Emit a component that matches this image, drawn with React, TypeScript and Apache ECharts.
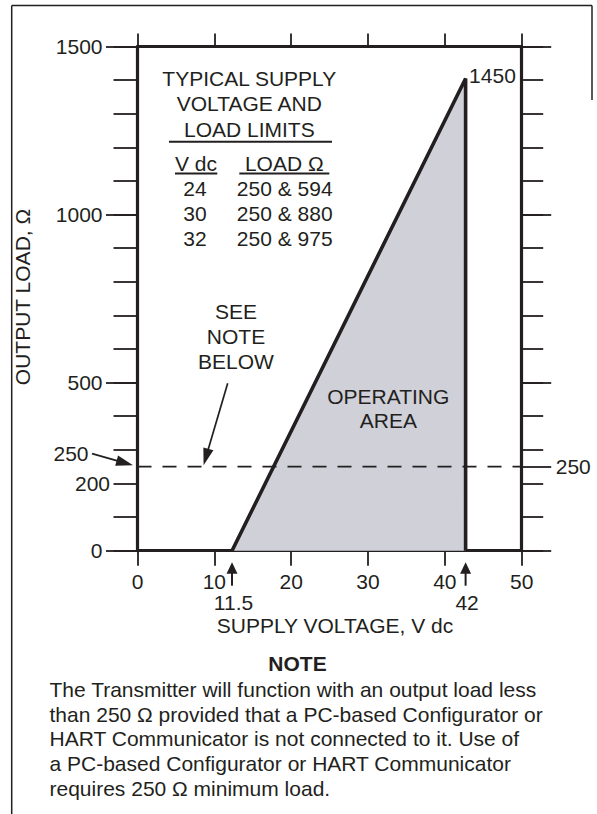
import React, { useEffect, useRef } from "react";
import * as echarts from "echarts";

// ---- data ----
const xRange = { min: 0, max: 50, step: 10 };
const yRange = { min: 0, max: 1500, step: 100 };
const leftMajorTicks = [0, 500, 1000, 1500];
const leftLabels = [0, 500, 1000, 1500];
const leftInnerLabels = [200];
const rightMajorTicks = [0, 250, 500, 1000, 1500];
const rightLabels = [250];
// operating area polygon as drawn: start voltage, max voltage / max load
const operatingArea: number[][] = [
  [12.3, 0],
  [42.7, 1405],
  [42.7, 0],
];
const minLoad = 250;
const minLoadLine: number[][] = [
  [0, minLoad],
  [50, minLoad],
];
const voltageMarks = [
  { label: "11.5", at: 12.3 },
  { label: "42", at: 42.7 },
];
const apexLabel = "1450";
const tableTitle = ["TYPICAL SUPPLY", "VOLTAGE AND", "LOAD LIMITS"];
const tableHeader = ["V dc", "LOAD Ω"];
const tableVoltages = ["24", "30", "32"];
const tableLoads = ["250 & 594", "250 & 880", "250 & 975"];
const seeNote = ["SEE", "NOTE", "BELOW"];
const areaLabel = ["OPERATING", "AREA"];
const xTitle = "SUPPLY VOLTAGE, V dc";
const yTitle = "OUTPUT LOAD, Ω";
const noteTitle = "NOTE";
const noteLines = [
  "The Transmitter will function with an output load less",
  "than 250 Ω provided that a PC-based Configurator or",
  "HART Communicator is not connected to it. Use of",
  "a PC-based Configurator or HART Communicator",
  "requires 250 Ω minimum load.",
];

const FONT = "'Liberation Sans', Arial, Helvetica, sans-serif";
const INK = "#231f20";
const FS = 21;

function arrowEls(from: number[], to: number[], headLen: number, headW: number, lw: number) {
  const dx = to[0] - from[0];
  const dy = to[1] - from[1];
  const L = Math.hypot(dx, dy);
  const ux = dx / L;
  const uy = dy / L;
  const bx = to[0] - ux * headLen;
  const by = to[1] - uy * headLen;
  const nx = -uy;
  const ny = ux;
  return [
    {
      type: "line",
      shape: { x1: from[0], y1: from[1], x2: bx + ux, y2: by + uy },
      style: { stroke: INK, lineWidth: lw },
      z: 10,
    },
    {
      type: "polygon",
      shape: {
        points: [
          [to[0], to[1]],
          [bx + (nx * headW) / 2, by + (ny * headW) / 2],
          [bx - (nx * headW) / 2, by - (ny * headW) / 2],
        ],
      },
      style: { fill: INK },
      z: 10,
    },
  ];
}

function txt(text: string, x: number, y: number, align = "center", extra: any = {}) {
  return {
    type: "text",
    x,
    y,
    z: 10,
    ...extra.el,
    style: {
      text,
      x: 0,
      y: 0,
      fill: INK,
      fontSize: FS,
      fontFamily: FONT,
      align,
      verticalAlign: "middle",
      ...extra.style,
    },
  };
}

function hline(x1: number, x2: number, y: number, w: number) {
  return { type: "line", shape: { x1, y1: y, x2, y2: y }, style: { stroke: INK, lineWidth: w }, z: 10 };
}
function vline(x: number, y1: number, y2: number, w: number) {
  return { type: "line", shape: { x1: x, y1, x2: x, y2 }, style: { stroke: INK, lineWidth: w }, z: 10 };
}

export default function App() {
  const ref = useRef<HTMLDivElement>(null);
  useEffect(() => {
    const chart = echarts.init(ref.current!, null, { renderer: "svg" });
    const axisLine = { show: true, onZero: false, lineStyle: { color: INK, width: 3.2 } };
    const noLine = { show: false, onZero: false };
    const label = { color: INK, fontSize: FS, fontFamily: FONT, formatter: (v: number) => String(v) };
    const yBase = { type: "value", min: yRange.min, max: yRange.max, interval: yRange.step, splitLine: { show: false } };
    const xBase = { type: "value", min: xRange.min, max: xRange.max, interval: xRange.step, splitLine: { show: false } };
    chart.setOption({
      animation: false,
      backgroundColor: "#ffffff",
      grid: { left: 137.5, top: 46.5, width: 384.2, height: 504.2, containLabel: false },
      xAxis: [
        {
          ...xBase,
          position: "bottom",
          axisLine,
          axisTick: { show: true, length: 15, lineStyle: { color: INK, width: 1.8 } },
          axisLabel: { ...label, margin: 20, lineHeight: 21 },
        },
        {
          ...xBase,
          position: "top",
          axisLine,
          axisTick: { show: true, length: 13, lineStyle: { color: INK, width: 1.8 } },
          axisLabel: { show: false },
        },
      ],
      yAxis: [
        {
          ...yBase,
          position: "left",
          axisLine,
          axisTick: { show: true, length: 24, lineStyle: { color: INK, width: 1.8 } },
          axisLabel: { show: false },
        },
        {
          ...yBase,
          position: "left",
          axisLine: noLine,
          axisTick: { show: true, length: 31.5, customValues: leftMajorTicks, lineStyle: { color: INK, width: 1.8 } },
          axisLabel: { ...label, margin: 35, customValues: leftLabels },
        },
        {
          ...yBase,
          position: "left",
          axisLine: noLine,
          axisTick: { show: false },
          axisLabel: { ...label, margin: 27.5, customValues: leftInnerLabels },
        },
        {
          ...yBase,
          position: "right",
          axisLine,
          axisTick: { show: true, length: 21.5, lineStyle: { color: INK, width: 1.8 } },
          axisLabel: { show: false },
        },
        {
          ...yBase,
          position: "right",
          axisLine: noLine,
          axisTick: { show: true, length: 29.5, customValues: rightMajorTicks, lineStyle: { color: INK, width: 1.8 } },
          axisLabel: { ...label, margin: 34, customValues: rightLabels },
        },
      ],
      series: [
        {
          type: "line",
          name: "Operating area",
          data: operatingArea,
          xAxisIndex: 0,
          yAxisIndex: 0,
          symbol: "none",
          lineStyle: { color: INK, width: 3.6, join: "miter", miterLimit: 10, cap: "butt" },
          areaStyle: { color: "#cfd0d8", opacity: 1 },
          z: 3,
        },
        {
          type: "line",
          name: "Minimum load",
          data: minLoadLine,
          xAxisIndex: 0,
          yAxisIndex: 0,
          symbol: "none",
          lineStyle: { color: INK, width: 1.6, type: [14, 11] },
          z: 4,
        },
      ],
    });

    const px = (x: number, y: number) =>
      chart.convertToPixel({ xAxisIndex: 0, yAxisIndex: 0 }, [x, y]) as number[];

    const g: any[] = [];
    // page frame
    g.push(vline(11.7, 5.5, 814, 1.5));
    g.push(hline(11.7, 592, 5.5, 1.5));
    g.push(vline(592, 5.5, 100, 1.5));

    // apex label
    const apex = px(operatingArea[1][0], operatingArea[1][1]);
    g.push(txt(apexLabel, apex[0] + 3.5, apex[1] - 3, "left"));

    // voltage arrows + labels
    voltageMarks.forEach((m) => {
      const p = px(m.at, 0);
      g.push(...arrowEls([p[0], p[1] + 35], [p[0], p[1] + 11.5], 11.5, 11, 2));
      g.push(txt(m.label, p[0] + 1.5, p[1] + 52));
    });

    // 250 left label + arrow
    const p250 = px(0, minLoad);
    g.push(txt(String(minLoad), 88.5, p250[1] - 13, "right"));
    g.push(...arrowEls([92, p250[1] - 13], [p250[0] - 4.5, p250[1] - 1.5], 17, 10.5, 1.7));

    // see note
    seeNote.forEach((s, i) => g.push(txt(s, 236, 311.7 + i * 25)));
    const pNote = px(8.6, minLoad);
    g.push(...arrowEls([227.7, 383.3], [pNote[0], pNote[1] - 1.5], 17, 10.5, 1.7));

    // operating area label
    areaLabel.forEach((s, i) => g.push(txt(s, 388.3, 396 + i * 24.7)));

    // table
    const tys = [78.3, 103.5, 129];
    tableTitle.forEach((s, i) => g.push(txt(s, 249.3, tys[i])));
    g.push(hline(169, 332, 141.7, 2));
    g.push(txt(tableHeader[0], 196, 163.3));
    g.push(txt(tableHeader[1], 284.3, 163.3));
    g.push(hline(175, 217.3, 173.5, 2));
    g.push(hline(239.3, 329.3, 173.5, 2));
    tableVoltages.forEach((v, i) => {
      g.push(txt(v, 195, 188 + i * 25.3));
      g.push(txt(tableLoads[i], 284.7, 188 + i * 25.3));
    });

    // axis titles
    g.push(txt(xTitle, 335, 625));
    g.push(txt(yTitle, 22.5, 297, "center", { el: { rotation: Math.PI / 2 } }));

    // note
    g.push(txt(noteTitle, 297.5, 663.3, "center", { style: { fontWeight: "bold" } }));
    noteLines.forEach((s, i) => g.push(txt(s, 49.5, 689.3 + i * 24.75, "left")));

    chart.setOption({ graphic: g });
    return () => chart.dispose();
  }, []);
  return (
    <div
      ref={ref}
      style={{ position: "fixed", left: 0, top: 0, width: 597, height: 814, background: "#fff" }}
    />
  );
}
